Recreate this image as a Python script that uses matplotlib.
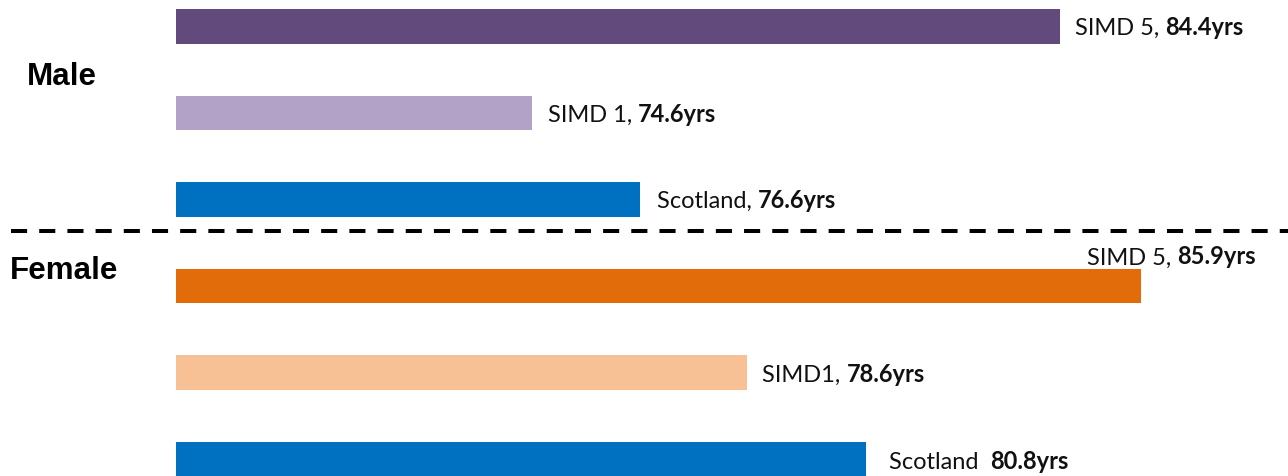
import matplotlib.pyplot as plt
from matplotlib.lines import Line2D

# Life expectancy (years) by group
groups = ["Male", "Female"]
categories = ["SIMD 5", "SIMD 1", "Scotland", "SIMD 5", "SIMD 1", "Scotland"]
values = [84.4, 74.6, 76.6, 85.9, 78.6, 80.8]
prefix_labels = ["SIMD 5, ", "SIMD 1, ", "Scotland, ", "SIMD 5, ", "SIMD1, ", "Scotland  "]
bold_labels = ["84.4yrs", "74.6yrs", "76.6yrs", "85.9yrs", "78.6yrs", "80.8yrs"]

colors = ["#624A7D", "#B3A2C8", "#0070C0", "#E36C0A", "#F8C195", "#0070C0"]
# label offsets in pixels from the bar end (x, y)
label_offsets = [(15, -1), (16, -1), (17, -1), (-54, 29), (15, -2), (23, -3)]

W, H = 1288, 477
fig = plt.figure(figsize=(W / 100, H / 100), dpi=100)
left_px = 176
ax = fig.add_axes([left_px / W, 0, 1 - left_px / W, 1])

px_per_year = 53.9
spacing = 86.5
x0 = 68.0
ax.set_xlim(x0, x0 + (W - left_px) / px_per_year)
ax.set_ylim(5 + (H - 460) / spacing, -27.5 / spacing)
ax.axis("off")

pos = list(range(len(values)))
ax.barh(pos, [v - x0 for v in values], left=x0, height=0.4, color=colors)

fig.canvas.draw()
for i, v in enumerate(values):
    dx, dy = label_offsets[i]
    t = ax.annotate(prefix_labels[i], xy=(v, pos[i]), xytext=(dx * 0.72, dy * 0.72),
                    textcoords="offset points", ha="left", va="center",
                    fontsize=17, family="Lato", color="#111111")
    ax.annotate(bold_labels[i], xy=(1, 0), xycoords=t, ha="left", va="bottom",
                fontsize=17, family="Lato", fontweight="bold", color="#111111")

# group headings
fig.text(62 / W, 1 - 77 / H, groups[0], ha="center", va="center",
         fontsize=22.6, fontweight="bold", family="Liberation Sans")
fig.text(64 / W, 1 - 271 / H, groups[1], ha="center", va="center",
         fontsize=22.6, fontweight="bold", family="Liberation Sans")

# dashed separator
fig.add_artist(Line2D([11 / W, 1], [1 - 231.5 / H] * 2, transform=fig.transFigure,
                      color="black", lw=2.9, linestyle=(0, (16 / 4, 12 / 4)),
                      dash_capstyle="butt"))

fig.savefig("out.png", dpi=100)
